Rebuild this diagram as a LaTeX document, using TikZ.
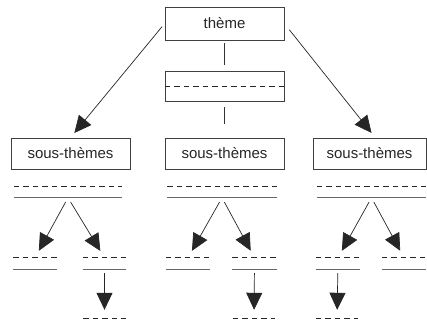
\documentclass[tikz,border=0pt]{standalone}
\usepackage{fontspec}
\setmainfont{Liberation Sans}
\usetikzlibrary{arrows.meta}

\begin{document}
\begin{tikzpicture}[x=1pt, y=-1pt,
    box/.style={draw=black!75, line width=0.7pt, rectangle, minimum height=31pt, inner sep=0pt,
        font=\fontsize{15}{18}\selectfont, text=black!85},
    blank/.style={rectangle, inner sep=0pt, minimum width=#1, minimum height=11pt},
    endline/.style={rectangle, inner sep=0pt, minimum width=#1, minimum height=0pt},
    dashes/.style={draw=black!85, line width=0.8pt, dash pattern=on 5.5pt off 4pt},
    rule/.style={draw=black!60, line width=0.8pt},
    link/.style={draw=black!80, line width=0.8pt},
    arrow/.style={-{Triangle[length=17pt,width=16pt]}, draw=black!85, line width=0.7pt}]

    \useasboundingbox (0,0) rectangle (427,328);

    % Top: theme and its empty box
    \node[box, minimum width=119pt, minimum height=33pt] (theme) at (224.5,23.5) {thème};
    \node[box, minimum width=119pt, minimum height=30pt] (gap) at (224.5,86) {};
    \draw[dashes] (gap.west) -- (gap.east);

    % Sub-themes
    \node[box, minimum width=119pt] (st1) at (70.5,153.5) {sous-thèmes};
    \node[box, minimum width=119pt] (st2) at (224.5,153.5) {sous-thèmes};
    \node[box, minimum width=113pt] (st3) at (369.5,153.5) {sous-thèmes};

    % Connections from the theme
    \draw[link, shorten <=3pt, shorten >=6pt] (theme) -- (gap);
    \draw[link, shorten <=6pt, shorten >=14pt] (gap) -- (st2);
    \draw[arrow, shorten <=4pt, shorten >=6pt] (theme.west) -- (st1.north);
    \draw[arrow, shorten <=8pt, shorten >=6pt] (theme.east) -- (st3.70);

    % Blanks under each sub-theme
    \node[blank=108pt] (b1) at (68,192) {};
    \node[blank=109pt] (b2) at (222,192) {};
    \node[blank=109pt] (b3) at (371.5,192) {};

    \node[blank=43pt] (s11) at (35,263.5) {};
    \node[blank=43pt] (s12) at (104.5,263.5) {};
    \node[blank=44pt] (s21) at (188,263.5) {};
    \node[blank=44pt] (s22) at (254.5,263.5) {};
    \node[blank=44pt] (s31) at (338,263.5) {};
    \node[blank=44pt] (s32) at (404,263.5) {};

    \node[endline=42pt] (e1) at (104.5,318) {};
    \node[endline=42pt] (e2) at (254,318) {};
    \node[endline=42pt] (e3) at (337,318) {};

    \foreach \b in {b1,b2,b3,s11,s12,s21,s22,s31,s32} {
        \draw[dashes] (\b.north west) -- (\b.north east);
        \draw[rule] (\b.south west) -- (\b.south east);
    }
    \foreach \e in {e1,e2,e3}
        \draw[dashes] (\e.west) -- (\e.east);

    % Branches
    \draw[arrow, shorten <=5pt, shorten >=8pt] (b1.south) -- (s11.north);
    \draw[arrow, shorten <=5pt, shorten >=8pt] (b1.south) -- (s12.north);
    \draw[arrow, shorten <=5pt, shorten >=8pt] (b2.south) -- (s21.north);
    \draw[arrow, shorten <=5pt, shorten >=8pt] (b2.south) -- (s22.north);
    \draw[arrow, shorten <=5pt, shorten >=8pt] (b3.south) -- (s31.north);
    \draw[arrow, shorten <=5pt, shorten >=8pt] (b3.south) -- (s32.north);

    \draw[arrow, shorten <=4pt, shorten >=8pt] (s12) -- (e1);
    \draw[arrow, shorten <=4pt, shorten >=8pt] (s22) -- (e2);
    \draw[arrow, shorten <=4pt, shorten >=8pt] (s31) -- (e3);
\end{tikzpicture}
\end{document}
